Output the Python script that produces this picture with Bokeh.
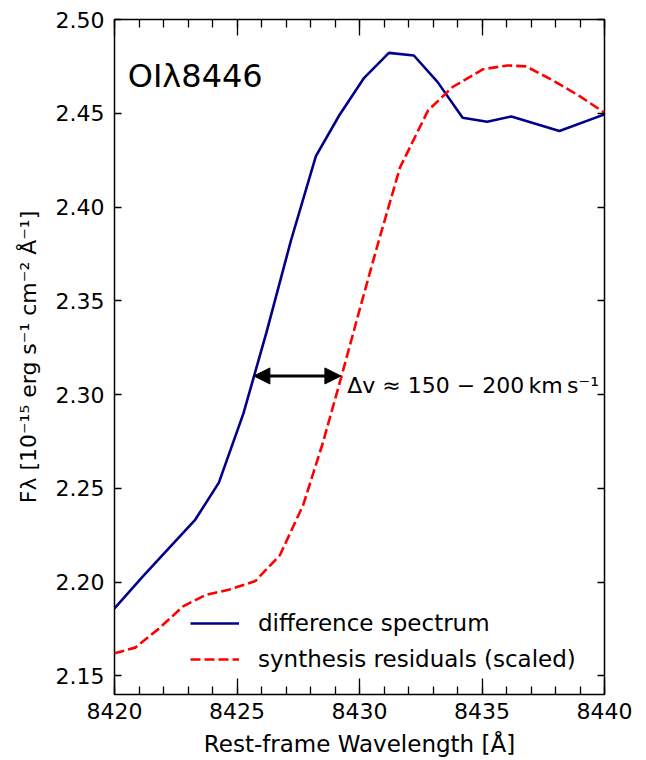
from bokeh.plotting import figure
from bokeh.models import (Range1d, LinearAxis, SingleIntervalTicker, Arrow, NormalHead,
                          Legend, LegendItem, PrintfTickFormatter, ColumnDataSource)
from bokeh.core.properties import value
from bokeh.embed import file_html
from bokeh.resources import INLINE

# ---- data ----
diff_wave = [8420.0, 8421.14, 8422.27, 8423.30, 8424.26, 8425.26, 8426.2, 8427.2,
             8428.22, 8429.17, 8430.19, 8431.20, 8432.22, 8433.19, 8434.21, 8435.21,
             8436.20, 8438.16, 8440.0]
diff_flux = [2.1859, 2.2027, 2.2187, 2.2333, 2.2530, 2.2898, 2.3330, 2.3820,
             2.4271, 2.4488, 2.4689, 2.4822, 2.4808, 2.4666, 2.4476, 2.4455,
             2.4483, 2.4405, 2.4494]

synth_wave = [8420.0, 8420.85, 8421.8, 8422.8, 8423.7, 8424.7, 8425.75, 8426.75,
              8427.7, 8428.5, 8429.25, 8430.0, 8430.7, 8431.65, 8432.8, 8433.8,
              8435.05, 8436.05, 8436.8, 8437.9, 8439.0, 8440.0]
synth_flux = [2.162, 2.165, 2.175, 2.187, 2.193, 2.196, 2.2005, 2.2143,
              2.241, 2.274, 2.309, 2.345, 2.378, 2.421, 2.4515, 2.464,
              2.4735, 2.4755, 2.475, 2.4675, 2.459, 2.4503]

series_labels = ["difference spectrum", "synthesis residuals (scaled)"]

arrow_wave = [8425.69, 8429.24]
arrow_flux = [2.3099, 2.3099]
shift_text = "Δv ≈ 150 − 200\u2009km\u2009s⁻¹"
shift_text_wave = 8429.5
shift_text_flux = 2.3049

line_name = "OIλ8446"
line_name_wave = 8420.54
line_name_flux = 2.4701

x_lim = (8420, 8440)
y_lim = (2.14, 2.50)

FONT = "DejaVu Sans"

p = figure(frame_width=490, frame_height=675,
           x_range=Range1d(*x_lim), y_range=Range1d(*y_lim),
           x_axis_type=None, y_axis_type=None,
           output_backend="svg", toolbar_location=None,
           min_border_left=114, min_border_right=42,
           min_border_top=19, min_border_bottom=66,
           background_fill_color="white", border_fill_color="white")
p.outline_line_color = "black"
p.outline_line_width = 1.5
p.grid.visible = False


def make_axis(kind, labels, interval, minor):
    ax = LinearAxis(ticker=SingleIntervalTicker(interval=interval, num_minor_ticks=minor))
    ax.axis_line_color = None
    ax.major_tick_line_color = "black"
    ax.minor_tick_line_color = "black"
    ax.major_tick_line_width = 1.3
    ax.minor_tick_line_width = 1.3
    ax.major_tick_out = 0
    ax.minor_tick_out = 0
    if kind == "x":
        ax.major_tick_in = 16
        ax.minor_tick_in = 8
    else:
        ax.major_tick_in = 7
        ax.minor_tick_in = 0
    ax.major_label_text_font = FONT
    if labels:
        ax.major_label_text_font_size = "22px"
        ax.major_label_text_color = "black"
    else:
        ax.major_label_text_font_size = "10px"
        ax.major_label_text_color = None
        ax.major_label_standoff = 0
    return ax


xb = make_axis("x", True, 5, 5)
xb.major_label_standoff = 8
xb.axis_label = "Rest-frame Wavelength [Å]"
xb.axis_label_text_font = FONT
xb.axis_label_text_font_size = "23px"
xb.axis_label_text_font_style = "normal"
xb.axis_label_text_color = "black"
xb.axis_label_standoff = 9
p.add_layout(xb, "below")

xt = make_axis("x", False, 5, 5)
p.add_layout(xt, "above")

yl = make_axis("y", True, 0.05, 0)
yl.formatter = PrintfTickFormatter(format="%.2f")
yl.major_label_standoff = 10
yl.axis_label = "Fλ [10⁻¹⁵ erg s⁻¹ cm⁻² Å⁻¹]"
yl.axis_label_text_font = FONT
yl.axis_label_text_font_size = "22px"
yl.axis_label_text_font_style = "normal"
yl.axis_label_text_color = "black"
yl.axis_label_standoff = 12
p.add_layout(yl, "left")

yr = make_axis("y", False, 0.05, 0)
p.add_layout(yr, "right")

src_diff = ColumnDataSource(dict(x=diff_wave, y=diff_flux))
src_synth = ColumnDataSource(dict(x=synth_wave, y=synth_flux))

r_diff = p.line("x", "y", source=src_diff, line_color="#00008b", line_width=2.6)
r_synth = p.line("x", "y", source=src_synth, line_color="#ff0000", line_width=2.6,
                 line_dash="10 4")

head_kw = dict(size=16, fill_color="black", line_color="black", line_width=1)
p.add_layout(Arrow(start=NormalHead(**head_kw), end=NormalHead(**head_kw),
                   x_start=arrow_wave[0], y_start=arrow_flux[0],
                   x_end=arrow_wave[1], y_end=arrow_flux[1],
                   line_color="black", line_width=3))

p.text(x=[shift_text_wave], y=[shift_text_flux], text=[shift_text],
       text_font=value(FONT), text_font_size="22px", text_color="black",
       text_baseline="alphabetic", text_align="left")

p.text(x=[line_name_wave], y=[line_name_flux], text=[line_name],
       text_font=value(FONT), text_font_size="32px", text_color="black",
       text_baseline="alphabetic", text_align="left")

legend = Legend(items=[LegendItem(label=series_labels[0], renderers=[r_diff]),
                       LegendItem(label=series_labels[1], renderers=[r_synth])],
                location=(76, 22), border_line_color=None, background_fill_alpha=0,
                label_text_font=FONT, label_text_font_size="23px",
                label_text_color="black",
                glyph_width=49, glyph_height=24, label_height=24, spacing=10,
                padding=0, margin=0, label_standoff=19)
p.add_layout(legend)

open("out.html", "w").write(file_html(p, INLINE))
